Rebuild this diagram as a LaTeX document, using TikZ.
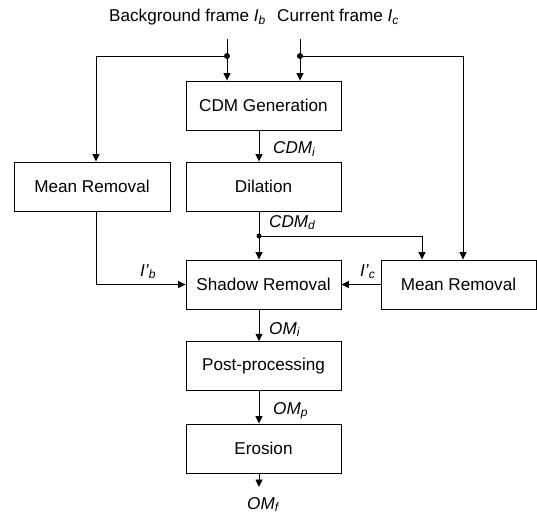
\documentclass[tikz,border=0pt]{standalone}
\usepackage{fontspec}
\setmainfont{Liberation Sans}
\usetikzlibrary{arrows.meta}
\begin{document}
\begin{tikzpicture}[x=1bp,y=-1bp,
  box/.style={draw,line width=0.9bp,minimum width=155bp,minimum height=49bp,inner sep=0pt,font=\fontsize{17.2}{20}\selectfont},
  conn/.style={line width=0.9bp},
  arr/.style={conn,-{Triangle[length=7.5bp,width=7bp]}},
  lbl/.style={inner sep=0pt,anchor=base west,font=\fontsize{17.2}{20}\selectfont\itshape},
  toplbl/.style={inner sep=0pt,anchor=base west,font=\fontsize{17.2}{20}\selectfont}]
\useasboundingbox (0,0) rectangle (537,515);

% boxes
\node[box] (cdm) at (263.5,105.5) {CDM Generation};
\node[box] (dil) at (263.5,186.5) {Dilation};
\node[box,minimum width=156bp] (mrl) at (92,186.5) {Mean Removal};
\node[box] (sh) at (263.5,284.5) {Shadow Removal};
\node[box] (mrr) at (458.5,284.5) {Mean Removal};
\node[box] (post) at (263.5,366.2) {Post-processing};
\node[box] (ero) at (263.5,448.5) {Erosion};

% top texts
\node[toplbl] (tb) at (109,22) {Background frame \textit{I}\textsubscript{\textit{b}}};
\node[toplbl] (tc) at (277,22) {Current frame \textit{I}\textsubscript{\textit{c}}};

% helper coordinates
\coordinate (inb) at (227,39);
\coordinate (inc) at (300,39);
\coordinate (db) at (227,56);
\coordinate (dc) at (300,56);
\coordinate (lx) at (96,0);
\coordinate (rx) at (463,0);
\coordinate (rx2) at (422,0);
\coordinate (mx) at (259,0);
\coordinate (dd) at (259,236);
\coordinate (omf) at (259,487);

% connectors
\draw[arr] (inb) -- (cdm.north -| inb);
\draw[arr] (inc) -- (cdm.north -| inc);
\draw[arr] (db) -| (mrl.north -| lx);
\draw[arr] (dc) -| (mrr.north -| rx);
\draw[arr] (cdm.south -| mx) -- (dil.north -| mx);
\draw[arr] (dil.south -| mx) -- (sh.north -| mx);
\draw[arr] (dd) -| (mrr.north -| rx2);
\draw[arr] (mrl.south -| lx) |- (sh.west);
\draw[arr] (mrr.west) -- (sh.east);
\draw[arr] (sh.south -| mx) -- (post.north -| mx);
\draw[arr] (post.south -| mx) -- (ero.north -| mx);
\draw[arr] (ero.south -| mx) -- (omf);

% junction dots
\fill (db) circle[radius=3bp];
\fill (dc) circle[radius=3bp];
\fill (dd) circle[radius=2.5bp];

% labels
\node[lbl] (lcdmi) at (273,154) {CDM\textsubscript{i}};
\node[lbl] (lcdmd) at (269,227) {CDM\textsubscript{d}};
\node[lbl] (lib) at (140,276) {I'\textsubscript{b}};
\node[lbl] (lic) at (360,276) {I'\textsubscript{c}};
\node[lbl] (lomi) at (269,334) {OM\textsubscript{i}};
\node[lbl] (lomp) at (273,414) {OM\textsubscript{p}};
\node[lbl] (lomf) at (247,509) {OM\textsubscript{f}};
\end{tikzpicture}
\end{document}
